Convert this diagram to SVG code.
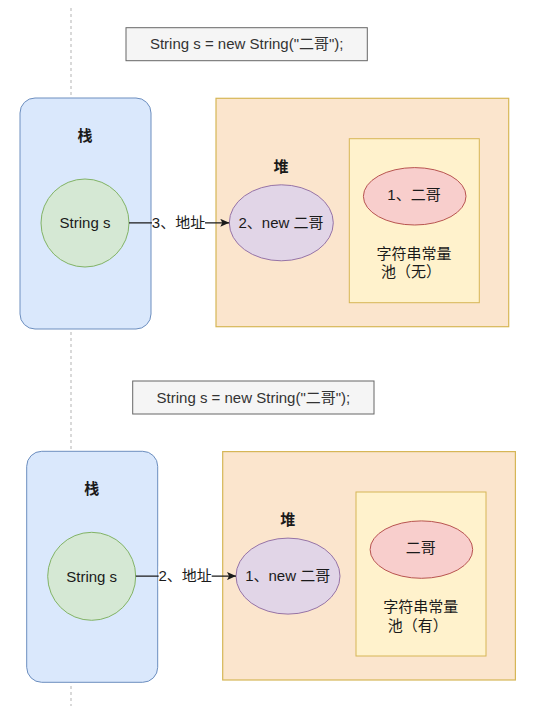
<svg xmlns="http://www.w3.org/2000/svg" width="538" height="715" viewBox="0 0 538 715">
<style>
text{font-family:"Liberation Sans","Noto Sans CJK SC",sans-serif;font-size:15px;fill:#1a1a1a;text-anchor:middle}
.code rect{fill:#f5f5f5;stroke:#666666;stroke-width:1}
.code text{fill:#333333}
.stack{fill:#dae8fc;stroke:#6c8ebf;stroke-width:1}
.var{fill:#d5e8d4;stroke:#82b366;stroke-width:1}
.heap{fill:#fbe5cd;stroke:#d6b656;stroke-width:1.2}
.pool{fill:#fff2cc;stroke:#d6b656;stroke-width:1}
.obj{fill:#e1d5e7;stroke:#9673a6;stroke-width:1}
.lit{fill:#f8cecc;stroke:#b85450;stroke-width:1}
.title{font-weight:bold}
.edge{stroke:#1a1a1a;stroke-width:1.2;fill:none}
.guide{stroke:#b3b3b3;stroke-width:1;stroke-dasharray:3 3}
</style>
<defs>
<marker id="arrow" markerUnits="userSpaceOnUse" markerWidth="10" markerHeight="8" refX="9" refY="4" orient="auto">
<path d="M0,0 L9,4 L0,8 L2,4 z" fill="#1a1a1a"/>
</marker>
</defs>
<rect width="538" height="715" fill="#ffffff"/>
<line class="guide" x1="71" y1="8" x2="71" y2="706"/>

<!-- top scenario -->
<g id="code1" class="code">
<rect x="126" y="27.7" width="241.3" height="33"/>
<text x="246.7" y="49.3">String s = new String("二哥");</text>
</g>
<g id="stack1">
<rect class="stack" x="20" y="98" width="131" height="231" rx="15" ry="15"/>
<text class="title" x="85" y="140.5">栈</text>
</g>
<g id="var1">
<circle class="var" cx="85" cy="223" r="44"/>
<text x="85" y="228.3">String s</text>
</g>
<g id="heap1">
<rect class="heap" x="216" y="98.3" width="292.7" height="228.4"/>
<text class="title" x="281" y="171.5">堆</text>
</g>
<g id="pool1">
<rect class="pool" x="349.3" y="138.7" width="130" height="164"/>
<text x="414" y="258.6">字符串常量</text>
<text x="411" y="277.3">池（无）</text>
</g>
<g id="lit1">
<ellipse class="lit" cx="414.7" cy="196.3" rx="51.3" ry="28.7"/>
<text x="414" y="199.6">1、二哥</text>
</g>
<g id="obj1">
<ellipse class="obj" cx="281.3" cy="222.8" rx="52" ry="38"/>
<text x="281" y="228.1">2、new 二哥</text>
</g>

<!-- bottom scenario -->
<g id="code2" class="code">
<rect x="132.7" y="381" width="241.3" height="33"/>
<text x="253.4" y="402.6">String s = new String("二哥");</text>
</g>
<g id="stack2">
<rect class="stack" x="26.7" y="451.3" width="131" height="231" rx="15" ry="15"/>
<text class="title" x="91.7" y="493.8">栈</text>
</g>
<g id="var2">
<circle class="var" cx="91.7" cy="576.3" r="44"/>
<text x="91.7" y="581.6">String s</text>
</g>
<g id="heap2">
<rect class="heap" x="222.7" y="451.6" width="292.7" height="228.4"/>
<text class="title" x="287.7" y="524.8">堆</text>
</g>
<g id="pool2">
<rect class="pool" x="356" y="492" width="130" height="164"/>
<text x="420.7" y="611.9">字符串常量</text>
<text x="417.7" y="630.6">池（有）</text>
</g>
<g id="lit2">
<ellipse class="lit" cx="421.4" cy="549.6" rx="51.3" ry="28.7"/>
<text x="420.7" y="552.9">二哥</text>
</g>
<g id="obj2">
<ellipse class="obj" cx="288" cy="576.1" rx="52" ry="38"/>
<text x="287.7" y="581.4">1、new 二哥</text>
</g>

<g id="connectors">
<line class="edge" x1="129" y1="222.8" x2="229.3" y2="222.8" marker-end="url(#arrow)"/>
<rect x="152" y="213" width="53" height="20" fill="#ffffff"/>
<text x="178.5" y="228.1">3、地址</text>
<line class="edge" x1="135.7" y1="576.1" x2="236" y2="576.1" marker-end="url(#arrow)"/>
<rect x="158.7" y="566.3" width="53" height="20" fill="#ffffff"/>
<text x="185.2" y="581.4">2、地址</text>
</g>
</svg>
